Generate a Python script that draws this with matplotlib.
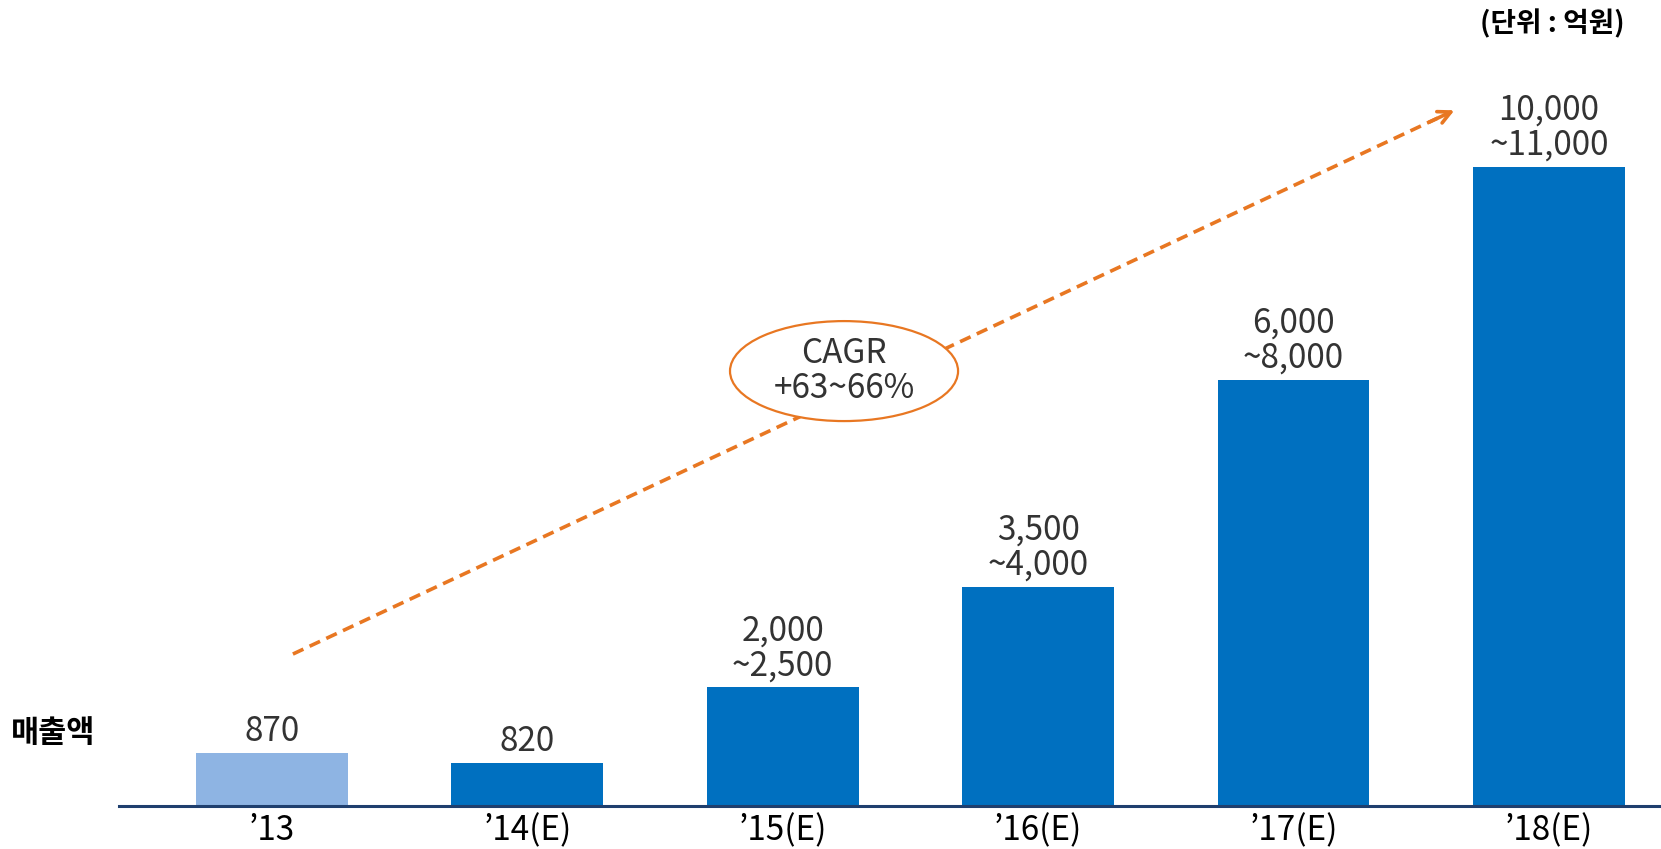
import matplotlib
matplotlib.use('Agg')
import matplotlib.pyplot as plt
from matplotlib.patches import Ellipse

plt.rcParams['font.family'] = ['Noto Sans CJK KR', 'DejaVu Sans']

# data (단위 : 억원)
years = ['\u201913', '\u201914(E)', '\u201915(E)', '\u201916(E)', '\u201917(E)', '\u201918(E)']
value_labels = ['870', '820', '2,000\n~2,500', '3,500\n~4,000', '6,000\n~8,000', '10,000\n~11,000']
bar_heights = [870, 710, 1950, 3600, 7000, 10500]
bar_colors = ['#8EB4E3', '#0070C0', '#0070C0', '#0070C0', '#0070C0', '#0070C0']

txt_col = '#333333'
orange = '#E87722'

fig = plt.figure(figsize=(16.61, 8.49), dpi=100)
ax = fig.add_axes([119/1661, 43/849, 1 - 119/1661, 806/849])

x = list(range(len(years)))
bars = ax.bar(x, bar_heights, width=0.595, color=bar_colors, zorder=2)

for b, lab in zip(bars, value_labels):
    ax.annotate(lab, (b.get_x() + b.get_width()/2, b.get_height()),
                xytext=(0, 3), textcoords='offset points',
                ha='center', va='bottom', fontsize=24, color=txt_col,
                linespacing=1.0)

ax.set_xlim(-0.599, 5.439)
ax.set_ylim(0, 13245)

for s in ['top', 'right', 'left']:
    ax.spines[s].set_visible(False)
ax.spines['bottom'].set_color('#1F3F6E')
ax.spines['bottom'].set_linewidth(2.2)
ax.set_yticks([])
ax.set_xticks(x)
ax.set_xticklabels(years, fontsize=24, color='black')
ax.tick_params(axis='x', length=0, pad=5)

# CAGR trend arrow
x0, y0, x1, y1 = 0.082, 2497, 4.64, 11452
ax.plot([x0, x1 - 0.05], [y0, y1 - 0.05*(y1 - y0)/(x1 - x0)], color=orange,
        lw=2.6, ls=(0, (3.2, 1.9)), zorder=3)
ax.annotate('', xy=(x1, y1), xytext=(x1 - 0.12, y1 - 0.12*(y1 - y0)/(x1 - x0)),
            arrowprops=dict(arrowstyle='->,head_length=0.9,head_width=0.45',
                            color=orange, lw=2.6), zorder=3)

ell = Ellipse((2.24, 7147), 0.893, 1643, facecolor='white', edgecolor=orange,
              lw=1.6, zorder=4)
ax.add_patch(ell)
ax.text(2.24, 7147, 'CAGR\n+63~66%', ha='center', va='center', fontsize=24,
        color=txt_col, linespacing=1.0, zorder=5)

fig.text(53/1661, 1 - 733/849, '매출액', ha='center', va='center',
         fontsize=22, fontweight='bold', color='black')
fig.text(1552/1661, 1 - 24/849, '(단위 : 억원)', ha='center', va='center',
         fontsize=20, fontweight='bold', color='black')

fig.savefig('out.png', dpi=100)
